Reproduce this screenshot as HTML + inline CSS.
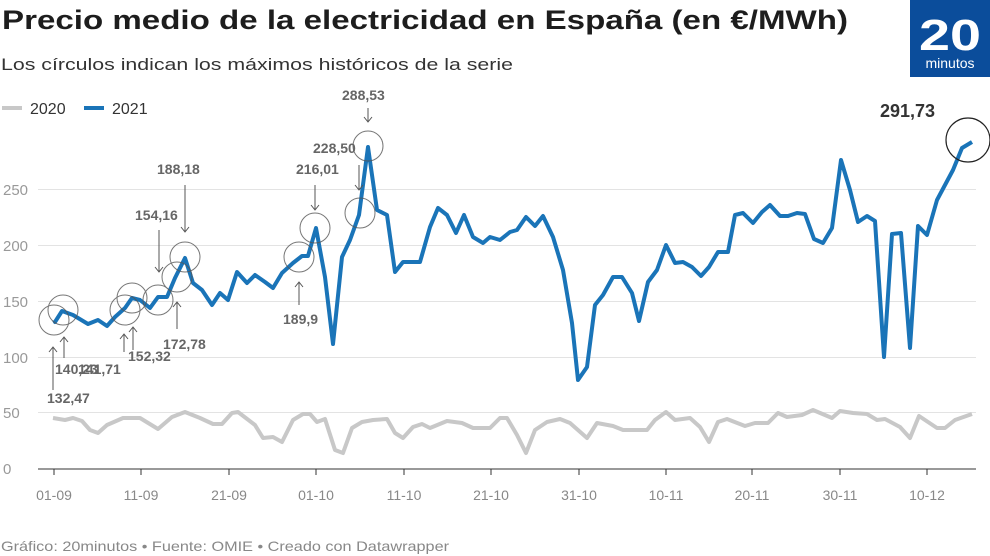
<!DOCTYPE html>
<html><head><meta charset="utf-8"><style>
html,body{margin:0;padding:0;background:#fff;}
svg{display:block;font-family:"Liberation Sans",sans-serif;}
</style></head><body>
<svg width="990" height="556" viewBox="0 0 990 556" xmlns="http://www.w3.org/2000/svg">
<rect width="990" height="556" fill="#fff"/>
<text x="2" y="29" font-size="27" font-weight="bold" fill="#1d1d1d" textLength="846" lengthAdjust="spacingAndGlyphs">Precio medio de la electricidad en España (en €/MWh)</text>
<text x="1" y="70" font-size="17" fill="#333" textLength="512" lengthAdjust="spacingAndGlyphs">Los círculos indican los máximos históricos de la serie</text>
<rect x="910" y="0" width="80" height="77" fill="#0b4d9b"/>
<text x="950" y="50" font-size="44" font-weight="bold" fill="#fff" text-anchor="middle" textLength="62" lengthAdjust="spacingAndGlyphs">20</text>
<text x="950" y="68" font-size="14" fill="#fff" text-anchor="middle">minutos</text>
<!-- legend -->
<line x1="2" y1="108" x2="22" y2="108" stroke="#c8c8c8" stroke-width="4"/>
<text x="30" y="114" font-size="16" fill="#333">2020</text>
<line x1="84" y1="108" x2="104" y2="108" stroke="#1a74b8" stroke-width="4"/>
<text x="112" y="114" font-size="16" fill="#333">2021</text>
<!-- grid -->
<g stroke="#e3e3e3" stroke-width="1">
<line x1="38" y1="189.5" x2="976" y2="189.5"/>
<line x1="38" y1="245.5" x2="976" y2="245.5"/>
<line x1="38" y1="301.5" x2="976" y2="301.5"/>
<line x1="38" y1="357.5" x2="976" y2="357.5"/>
<line x1="38" y1="412.5" x2="976" y2="412.5"/>
</g>
<line x1="38" y1="469" x2="976" y2="469" stroke="#333" stroke-width="1"/>
<g font-size="15" fill="#999">
<text x="3" y="195">250</text><text x="3" y="251">200</text><text x="3" y="307">150</text>
<text x="3" y="363">100</text><text x="3" y="418">50</text><text x="3" y="474">0</text>
</g>
<g stroke="#333" stroke-width="1">
<line x1="54" y1="469" x2="54" y2="475"/><line x1="141" y1="469" x2="141" y2="475"/>
<line x1="229" y1="469" x2="229" y2="475"/><line x1="316" y1="469" x2="316" y2="475"/>
<line x1="404" y1="469" x2="404" y2="475"/><line x1="491" y1="469" x2="491" y2="475"/>
<line x1="579" y1="469" x2="579" y2="475"/><line x1="666" y1="469" x2="666" y2="475"/>
<line x1="752" y1="469" x2="752" y2="475"/><line x1="840" y1="469" x2="840" y2="475"/>
<line x1="927" y1="469" x2="927" y2="475"/>
</g>
<g font-size="14" fill="#888" text-anchor="middle">
<text x="54" y="500">01-09</text><text x="141" y="500">11-09</text><text x="229" y="500">21-09</text>
<text x="316" y="500">01-10</text><text x="404" y="500">11-10</text><text x="491" y="500">21-10</text>
<text x="579" y="500">31-10</text><text x="666" y="500">10-11</text><text x="752" y="500">20-11</text>
<text x="840" y="500">30-11</text><text x="927" y="500">10-12</text>
</g>
<!-- 2020 -->
<polyline fill="none" stroke="#c8c8c8" stroke-width="4" stroke-linejoin="round" points="53,418 65,420 73,418 82,421 90,430 98,433 107,425 123,418 140,418 158,429 172,417 185,412 200,418 213,424 222,424 232,413 238,412 255,425 263,438 273,437 282,442 293,420 303,414 310,414 317,422 325,419 335,450 343,453 352,428 362,422 373,420 387,419 395,433 403,438 413,427 422,424 430,428 447,421 462,423 473,428 490,428 500,418 507,418 517,435 526,453 535,430 547,422 560,419 570,423 587,438 597,423 613,426 623,430 637,430 647,430 655,420 666,412 675,420 690,418 700,427 709,442 718,422 727,419 745,426 755,423 768,423 778,413 787,417 802,415 813,410 832,418 840,411 853,413 867,414 877,420 885,419 900,427 910,438 919,416 937,428 945,428 955,420 972,414"/>
<!-- 2021 -->
<polyline fill="none" stroke="#1a74b8" stroke-width="4" stroke-linejoin="round" points="54,320 55,322 62,311 73,315 88,324 98,320 107,326 115,317 125,308 132,298 140,300 150,308 158,297 167,297 175,278 185,258 193,283 202,290 212,305 220,293 228,300 237,272 247,283 255,275 265,282 273,288 282,273 293,263 302,256 308,256 316,228 325,277 333,344 342,257 350,240 359,215 368,147 377,210 387,215 395,272 403,262 420,262 430,227 438,208 447,215 456,233 464,215 473,237 483,243 490,237 500,240 510,232 517,230 526,217 535,226 543,216 553,237 563,270 572,323 578,380 587,367 595,305 603,295 613,277 622,277 632,293 639,321 648,282 657,270 666,245 675,263 683,262 692,267 701,276 709,267 718,252 728,252 735,215 743,213 753,223 762,212 770,205 780,216 788,216 797,213 805,214 814,239 823,243 832,228 841,160 850,190 858,222 867,216 875,221 884,357 892,234 901,233 910,348 918,226 927,235 937,200 945,185 953,170 962,148 972,142"/>
<!-- circles -->
<g fill="none" stroke="#555" stroke-width="1" opacity="0.8">
<circle cx="54" cy="320" r="15"/><circle cx="63" cy="310" r="15"/>
<circle cx="125" cy="310" r="15"/><circle cx="132" cy="298" r="15"/>
<circle cx="158" cy="300" r="15"/><circle cx="177" cy="277" r="15"/>
<circle cx="185" cy="257" r="15"/><circle cx="299" cy="257" r="15"/>
<circle cx="315" cy="228" r="15"/><circle cx="360" cy="213" r="15"/>
<circle cx="368" cy="146" r="15"/>
</g>
<circle cx="968" cy="140" r="22" fill="none" stroke="#222" stroke-width="1.2"/>
<!-- arrows -->
<g stroke="#555" stroke-width="1" fill="none">
<path d="M53,390 V347 M49,352 L53,347 L57,352"/>
<path d="M64,358 V337 M60,342 L64,337 L68,342"/>
<path d="M124,352 V334 M120,339 L124,334 L128,339"/>
<path d="M133,350 V327 M129,332 L133,327 L137,332"/>
<path d="M177,329 V302 M173,307 L177,302 L181,307"/>
<path d="M159,230 V272 M155,267 L159,272 L163,267"/>
<path d="M185,185 V232 M181,227 L185,232 L189,227"/>
<path d="M299,305 V282 M295,287 L299,282 L303,287"/>
<path d="M315,185 V210 M311,205 L315,210 L319,205"/>
<path d="M359,165 V190 M355,185 L359,190 L363,185"/>
<path d="M368,108 V122 M364,117 L368,122 L372,117"/>
</g>
<g font-size="14" font-weight="bold" fill="#666">
<text x="47" y="403">132,47</text>
<text x="55" y="374">140,23</text>
<text x="78" y="374">141,71</text>
<text x="128" y="361">152,32</text>
<text x="163" y="349">172,78</text>
<text x="135" y="220">154,16</text>
<text x="157" y="174">188,18</text>
<text x="283" y="324">189,9</text>
<text x="296" y="174">216,01</text>
<text x="313" y="153">228,50</text>
<text x="342" y="100">288,53</text>
</g>
<text x="880" y="117" font-size="18" font-weight="bold" fill="#333">291,73</text>
<text x="1" y="551" font-size="14" fill="#888" textLength="448" lengthAdjust="spacingAndGlyphs">Gráfico: 20minutos • Fuente: OMIE • Creado con Datawrapper</text>
</svg>
</body></html>
